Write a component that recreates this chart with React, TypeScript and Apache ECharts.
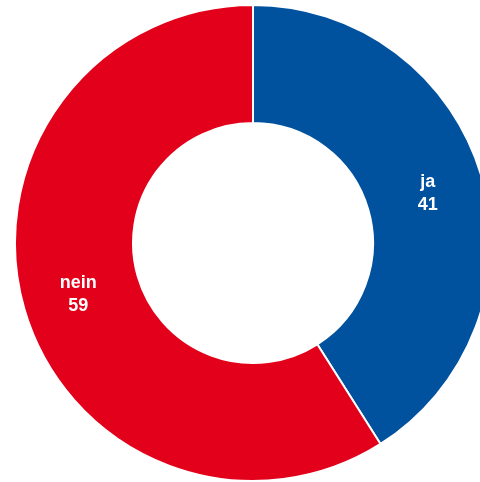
import React, { useEffect, useRef } from "react";
import * as echarts from "echarts";

const categories = ["ja", "nein"];
const values = [41, 59];
const colors = ["#00519e", "#e2001a"];

export default function App() {
  const ref = useRef<HTMLDivElement>(null);
  useEffect(() => {
    if (!ref.current) return;
    const chart = echarts.init(ref.current, null, { renderer: "svg" });
    chart.setOption({
      animation: false,
      series: [
        {
          type: "pie",
          center: [253, 243],
          radius: [120, 238],
          startAngle: 90,
          clockwise: true,
          silent: true,
          itemStyle: { borderColor: "#ffffff", borderWidth: 2 },
          label: {
            show: true,
            position: "inside",
            formatter: (p: any) => `${p.name}\n${p.value}`,
            color: "#ffffff",
            fontFamily: "Liberation Sans, Arial, sans-serif",
            fontWeight: "bold",
            fontSize: 18,
            lineHeight: 23,
          },
          labelLine: { show: false },
          data: categories.map((c, i) => ({
            name: c,
            value: values[i],
            itemStyle: { color: colors[i] },
          })),
        },
      ],
    });
    return () => chart.dispose();
  }, []);
  return (
    <div
      ref={ref}
      style={{ position: "fixed", left: 0, top: 0, width: 480, height: 482 }}
    />
  );
}
